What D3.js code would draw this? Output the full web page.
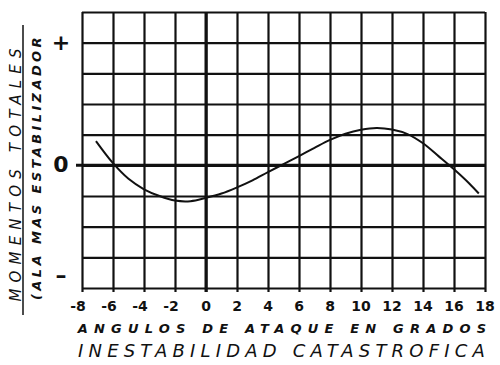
<!DOCTYPE html>
<html>
<head>
<meta charset="utf-8">
<script src="https://d3js.org/d3.v7.min.js"></script>
<style>
  body { margin: 0; background: #fff; }
  .grid line { stroke: #111; stroke-width: 2.2; }
  .grid path { display: none; }
  .lbl { font-family: "DejaVu Sans", sans-serif; fill: #111; }
</style>
</head>
<body>
<div id="chart"></div>
<script>
// angle of attack (degrees) and total moment (grid units)
var angles  = [-7.1, -6, -5, -4, -3, -2, -1, 0, 1, 2, 3, 4, 5, 6, 7, 8, 9, 10, 11, 12, 13, 14, 15, 16, 17, 17.6];
var moments = [0.79, 0.07, -0.44, -0.78, -1.0, -1.15, -1.17, -1.06, -0.92, -0.72, -0.49, -0.22, 0.04, 0.3, 0.57, 0.83, 1.03, 1.16, 1.22, 1.17, 1.02, 0.72, 0.3, -0.13, -0.6, -0.92];

var xTicks = [-8, -6, -4, -2, 0, 2, 4, 6, 8, 10, 12, 14, 16, 18];
var yGrid  = [-4, -3, -2, -1, 0, 1, 2, 3, 4, 5];
var yLabels = [{v: 4, t: "+"}, {v: 0, t: "0"}, {v: -3.6, t: "\u2013"}];

var xTitle = "ANGULOS DE ATAQUE EN GRADOS";
var caption = "INESTABILIDAD CATASTROFICA";
var yTitle1 = "MOMENTOS TOTALES";
var yTitle2 = "(ALA MAS ESTABILIZADOR";

var width = 500, height = 365;

var svg = d3.select("#chart").append("svg")
    .attr("width", width)
    .attr("height", height);

var x = d3.scaleLinear().domain([-8, 18]).range([82, 485]);
var y = d3.scaleLinear().domain([-4, 5]).range([288, 12]);

// vertical grid lines (run a little past the bottom edge like the drawing)
svg.append("g")
    .attr("class", "grid")
    .attr("transform", "translate(0," + (y(-4) + 4) + ")")
    .call(d3.axisBottom(x).tickValues(xTicks).tickSize(-(y(-4) - y(5) + 4)).tickFormat(""));

// horizontal grid lines
svg.append("g")
    .attr("class", "grid")
    .attr("transform", "translate(" + x(-8) + ",0)")
    .call(d3.axisLeft(y).tickValues(yGrid).tickSize(-(x(18) - x(-8))).tickFormat(""));

// heavier zero lines
svg.append("line")
    .attr("x1", x(0)).attr("x2", x(0))
    .attr("y1", y(5)).attr("y2", y(-4) + 4)
    .attr("stroke", "#111").attr("stroke-width", 3);
svg.append("line")
    .attr("x1", x(-8) - 6).attr("x2", x(18))
    .attr("y1", y(0)).attr("y2", y(0))
    .attr("stroke", "#111").attr("stroke-width", 3);

// curve
var pts = angles.map(function(a, i) { return [a, moments[i]]; });
svg.append("path")
    .datum(pts)
    .attr("fill", "none")
    .attr("stroke", "#111")
    .attr("stroke-width", 2)
    .attr("d", d3.line()
        .x(function(d) { return x(d[0]); })
        .y(function(d) { return y(d[1]); })
        .curve(d3.curveCatmullRom));

// x tick labels
svg.selectAll(".xt")
    .data(xTicks)
    .enter().append("text")
    .attr("class", "lbl xt")
    .attr("x", function(d) { return x(d) - (d < 0 ? 4 : 0); })
    .attr("y", 311)
    .attr("text-anchor", "middle")
    .attr("font-size", 14)
    .attr("font-weight", "bold")
    .text(function(d) { return d; });

// y labels
svg.selectAll(".yt")
    .data(yLabels)
    .enter().append("text")
    .attr("class", "lbl yt")
    .attr("x", 61)
    .attr("y", function(d) { return y(d.v) + 7; })
    .attr("text-anchor", "middle")
    .attr("font-size", 22)
    .attr("font-weight", "bold")
    .text(function(d) { return d.t; });

svg.append("text")
    .attr("class", "lbl")
    .attr("x", 285).attr("y", 333)
    .attr("text-anchor", "middle")
    .attr("font-size", 13)
    .attr("font-style", "italic")
    .attr("font-weight", "bold")
    .attr("letter-spacing", 6.2)
    .text(xTitle);

svg.append("text")
    .attr("class", "lbl")
    .attr("x", 284).attr("y", 357)
    .attr("text-anchor", "middle")
    .attr("font-size", 18)
    .attr("font-style", "italic")
    .attr("letter-spacing", 5.2)
    .text(caption);

// y axis title, rotated
svg.append("text")
    .attr("class", "lbl")
    .attr("transform", "translate(21,172) rotate(-90)")
    .attr("text-anchor", "middle")
    .attr("font-size", 15)
    .attr("font-style", "italic")
    .attr("letter-spacing", 6.2)
    .text(yTitle1);

svg.append("line")
    .attr("x1", 23).attr("x2", 23)
    .attr("y1", 25).attr("y2", 315)
    .attr("stroke", "#111").attr("stroke-width", 1.5);

svg.append("text")
    .attr("class", "lbl")
    .attr("transform", "translate(41,167) rotate(-90)")
    .attr("text-anchor", "middle")
    .attr("font-size", 13)
    .attr("font-style", "italic")
    .attr("font-weight", "bold")
    .attr("letter-spacing", 3.4)
    .text(yTitle2);
</script>
</body>
</html>
